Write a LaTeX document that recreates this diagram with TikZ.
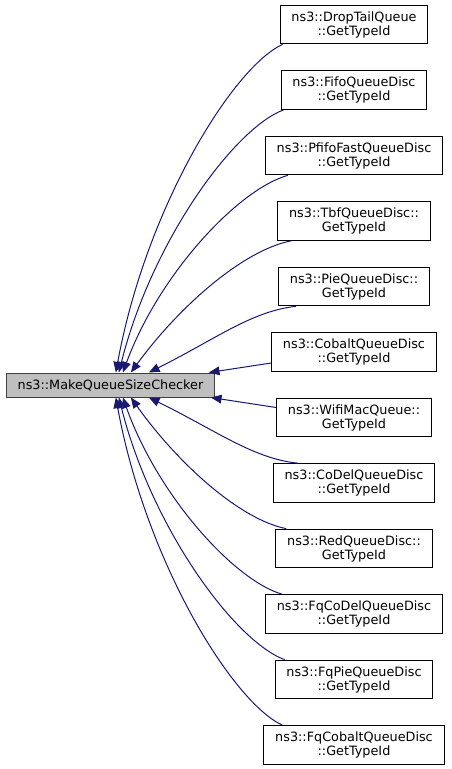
\documentclass[tikz,border=0pt]{standalone}
\usepackage{fontspec}
\setmainfont{DejaVu Sans}
\usetikzlibrary{arrows.meta, calc}
\definecolor{edgeblue}{HTML}{191970}
\definecolor{mainfill}{HTML}{BFBFBF}

\begin{document}
\begin{tikzpicture}[
  x=0.75pt, y=-0.75pt,
  fn/.style={draw=black, fill=white, line width=0.75pt, align=center,
    font=\fontsize{9.6}{10.5}\selectfont, inner xsep=8.5pt, inner ysep=0pt,
    minimum height=29pt},
  edge/.style={draw=edgeblue, line width=0.75pt,
    -{Triangle[length=8pt, width=6.5pt]}}
]
  \useasboundingbox (0,0) rectangle (451,769);

  % Checker
  \node[fn, fill=mainfill, draw=black!75, minimum height=18pt] (main)
    at (110.5,385) {ns3::MakeQueueSizeChecker};

  % Callers
  \foreach \lbl [count=\i] in {
      {ns3::DropTailQueue\\::GetTypeId},
      {ns3::FifoQueueDisc\\::GetTypeId},
      {ns3::PfifoFastQueueDisc\\::GetTypeId},
      {ns3::TbfQueueDisc::\\GetTypeId},
      {ns3::PieQueueDisc::\\GetTypeId},
      {ns3::CobaltQueueDisc\\::GetTypeId},
      {ns3::WifiMacQueue::\\GetTypeId},
      {ns3::CoDelQueueDisc\\::GetTypeId},
      {ns3::RedQueueDisc::\\GetTypeId},
      {ns3::FqCoDelQueueDisc\\::GetTypeId},
      {ns3::FqPieQueueDisc\\::GetTypeId},
      {ns3::FqCobaltQueueDisc\\::GetTypeId}} {
    \node[fn] (f\i) at (354, {24.5+65.5*(\i-1)}) {\lbl};
  }

  % Upper calls
  \foreach \i/\dx/\tx/\cx in {1/3/110/0.18, 2/3/113/0.2, 3/23/117/0.22,
                              4/14/125/0.3, 5/18/143/0.45} {
    \draw[edge] let \p1=($(f\i.south west)+(\dx,0)$),
                    \p2=($(main.north west)+(\tx,0)$) in
      (\p1) .. controls ({\x1-0.3*(\x1-\x2)},{\y1+0.07*(\y2-\y1)})
                   and ({\x2+\cx*(\x1-\x2)},{\y2-0.5*(\y2-\y1)}) .. (\p2);
  }
  \draw[edge] ($(f6.west)+(0,11)$) -- ($(main.north west)+(203,0)$);

  % Lower calls
  \draw[edge] ($(f7.west)+(0,-10)$) -- ($(main.south west)+(205,0)$);
  \foreach \i/\dx/\tx/\cx in {8/25/143/0.45, 9/11/125/0.3, 10/17/117/0.22,
                              11/10/113/0.2, 12/19/110/0.18} {
    \draw[edge] let \p1=($(f\i.north west)+(\dx,0)$),
                    \p2=($(main.south west)+(\tx,0)$) in
      (\p1) .. controls ({\x1-0.3*(\x1-\x2)},{\y1+0.07*(\y2-\y1)})
                   and ({\x2+\cx*(\x1-\x2)},{\y2-0.5*(\y2-\y1)}) .. (\p2);
  }
\end{tikzpicture}
\end{document}
